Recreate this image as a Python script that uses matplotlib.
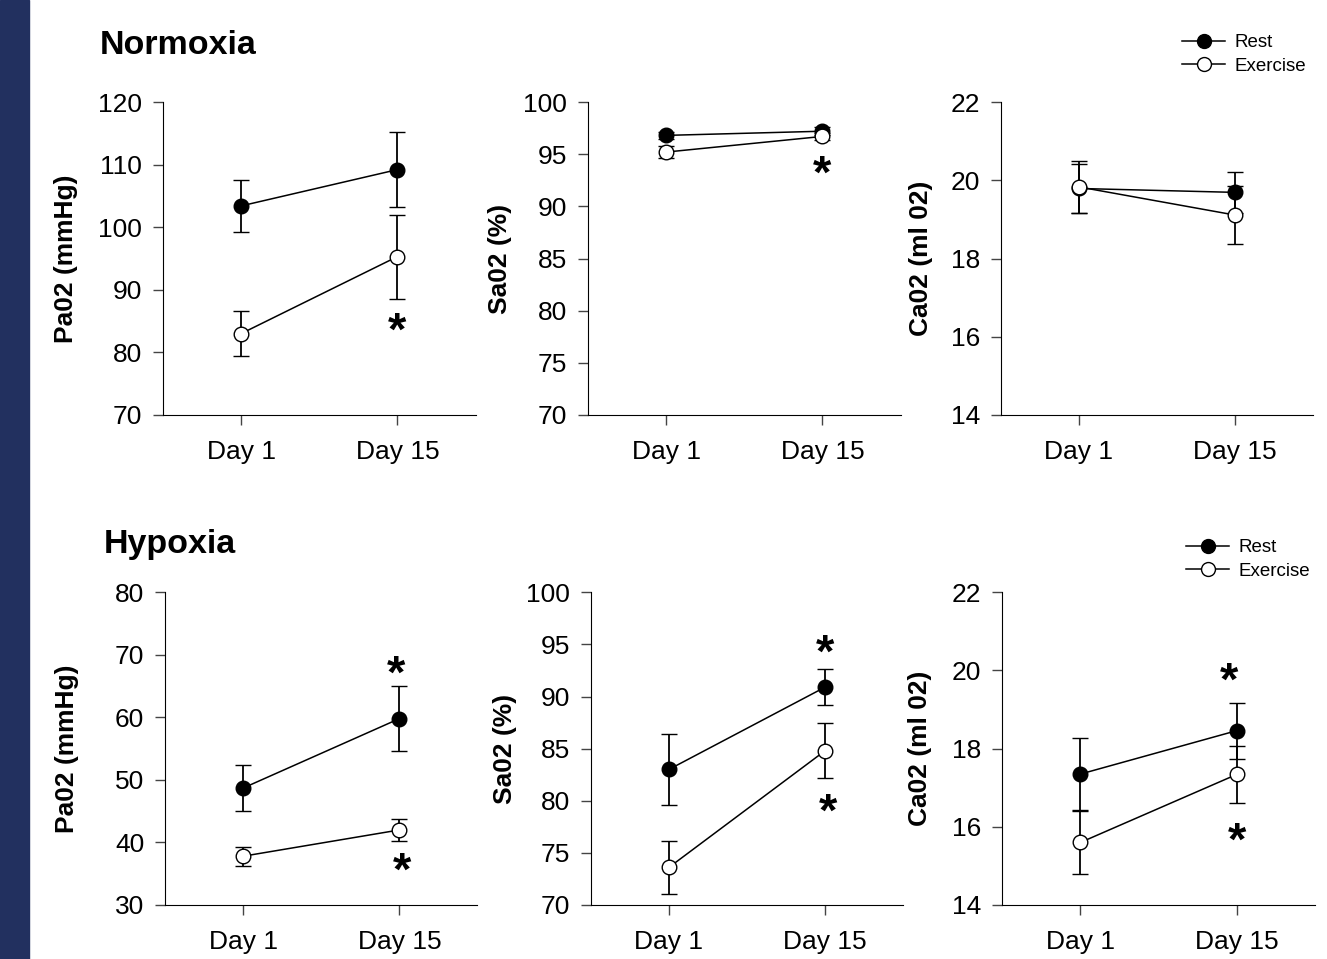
import numpy as np
import matplotlib.pyplot as plt
from matplotlib.patches import Rectangle
from matplotlib.lines import Line2D
from matplotlib.transforms import ScaledTranslation

plt.rcParams['font.family'] = ['Liberation Sans', 'DejaVu Sans']

days = ['Day 1', 'Day 15']

# Normoxia
norm_pao2_rest = [103.4, 109.2]
norm_pao2_rest_se = [4.2, 6.0]
norm_pao2_ex = [83.0, 95.3]
norm_pao2_ex_se = [3.6, 6.7]
norm_sao2_rest = [96.8, 97.2]
norm_sao2_rest_se = [0.3, 0.4]
norm_sao2_ex = [95.2, 96.7]
norm_sao2_ex_se = [0.6, 0.3]
norm_cao2_rest = [19.79, 19.69]
norm_cao2_rest_se = [0.62, 0.53]
norm_cao2_ex = [19.83, 19.11]
norm_cao2_ex_se = [0.67, 0.74]

# Hypoxia
hyp_pao2_rest = [48.7, 59.8]
hyp_pao2_rest_se = [3.7, 5.2]
hyp_pao2_ex = [37.8, 42.0]
hyp_pao2_ex_se = [1.5, 1.7]
hyp_sao2_rest = [83.0, 90.9]
hyp_sao2_rest_se = [3.4, 1.7]
hyp_sao2_ex = [73.6, 84.8]
hyp_sao2_ex_se = [2.5, 2.65]
hyp_cao2_rest = [17.35, 18.46]
hyp_cao2_rest_se = [0.93, 0.72]
hyp_cao2_ex = [15.6, 17.34]
hyp_cao2_ex_se = [0.8, 0.73]

# significance stars (x in category units, y in data units)
stars_norm_pao2 = [(1.0, 84.5)]
stars_norm_sao2 = [(1.0, 93.7)]
stars_norm_cao2 = []
stars_hyp_pao2 = [(0.98, 68.0), (1.02, 36.5)]
stars_hyp_sao2 = [(1.0, 94.8), (1.02, 79.5)]
stars_hyp_cao2 = [(0.95, 19.9), (1.0, 15.8)]

ylabels = ['Pa02 (mmHg)', 'Sa02 (%)', 'Ca02 (ml 02)']
ylims = [[(70, 120), (70, 100), (14, 22)], [(30, 80), (70, 100), (14, 22)]]
ysteps = [[10, 5, 2], [10, 5, 2]]

panels = [
    [(norm_pao2_rest, norm_pao2_rest_se, norm_pao2_ex, norm_pao2_ex_se, stars_norm_pao2),
     (norm_sao2_rest, norm_sao2_rest_se, norm_sao2_ex, norm_sao2_ex_se, stars_norm_sao2),
     (norm_cao2_rest, norm_cao2_rest_se, norm_cao2_ex, norm_cao2_ex_se, stars_norm_cao2)],
    [(hyp_pao2_rest, hyp_pao2_rest_se, hyp_pao2_ex, hyp_pao2_ex_se, stars_hyp_pao2),
     (hyp_sao2_rest, hyp_sao2_rest_se, hyp_sao2_ex, hyp_sao2_ex_se, stars_hyp_sao2),
     (hyp_cao2_rest, hyp_cao2_rest_se, hyp_cao2_ex, hyp_cao2_ex_se, stars_hyp_cao2)],
]

W, H = 1327, 959
fig = plt.figure(figsize=(W / 100, H / 100), dpi=100)
fig.patches.append(Rectangle((0, 0), 29 / W, 1, transform=fig.transFigure,
                             color='#22305f', zorder=0))

lefts = [[163, 588, 1000.7], [165, 590.7, 1002.3]]
tops = [102, 592.3]
bottoms = [415, 905]
label_x = [[66, 500, 921], [67, 505, 920]]
width_px = 312.5

x = np.arange(len(days))
star_shift = ScaledTranslation(0, -0.08, fig.dpi_scale_trans)
axes_grid = []
for r in range(2):
    row = []
    for c in range(3):
        rest, rest_se, ex, ex_se, stars = panels[r][c]
        ax = fig.add_axes([lefts[r][c] / W, 1 - bottoms[r] / H, width_px / W,
                           (bottoms[r] - tops[r]) / H])
        ax.errorbar(x, rest, yerr=rest_se, color='black', lw=1.1, marker='o',
                    ms=10.5, mfc='black', mec='black', mew=1, capsize=5.5,
                    elinewidth=1.3, capthick=1.3, zorder=3)
        ax.errorbar(x, ex, yerr=ex_se, color='black', lw=1.1, marker='o',
                    ms=10.5, mfc='white', mec='black', mew=1, capsize=5.5,
                    elinewidth=1.3, capthick=1.3, zorder=4)
        for sx, sy in stars:
            ax.text(sx, sy, '*', fontsize=34, fontweight='bold', ha='center',
                    va='center', zorder=5, transform=ax.transData + star_shift)
        lo, hi = ylims[r][c]
        ax.set_ylim(lo, hi)
        ax.set_yticks(np.arange(lo, hi + 0.01, ysteps[r][c]))
        ax.set_xlim(-0.5, 1.5)
        ax.set_xticks(x)
        ax.set_xticklabels(days)
        ax.spines['top'].set_visible(False)
        ax.spines['right'].set_visible(False)
        ax.tick_params(axis='both', labelsize=19, length=7, width=1, color='#444444')
        ax.tick_params(axis='y', pad=8)
        ax.tick_params(axis='x', pad=11)
        fig.text(label_x[r][c] / W, 1 - (tops[r] + bottoms[r]) / 2 / H, ylabels[c],
                 rotation=90, ha='center', va='center', fontsize=19,
                 fontweight='bold')
        row.append(ax)
    axes_grid.append(row)

fig.text(100 / W, 1 - 46 / H, 'Normoxia', fontsize=24.5, fontweight='bold',
         ha='left', va='center')
fig.text(104 / W, 1 - 544 / H, 'Hypoxia', fontsize=24.5, fontweight='bold',
         ha='left', va='center')

handles = [Line2D([], [], color='black', lw=1.1, marker='o', ms=10, mfc='black', mec='black'),
           Line2D([], [], color='black', lw=1.1, marker='o', ms=10, mfc='white', mec='black')]
legend_labels = ['Rest', 'Exercise']
legend_pos = [(1182 / W, 1 - 34 / H), (1186 / W, 1 - 539 / H)]
for r in range(2):
    ax = axes_grid[r][2]
    ax.legend(handles, legend_labels, loc='upper left', bbox_to_anchor=legend_pos[r],
              bbox_transform=fig.transFigure, frameon=False, fontsize=13.5,
              borderpad=0, borderaxespad=0, handlelength=2.3,
              handletextpad=0.5, labelspacing=0.35)

fig.savefig('out.png', dpi=100)
